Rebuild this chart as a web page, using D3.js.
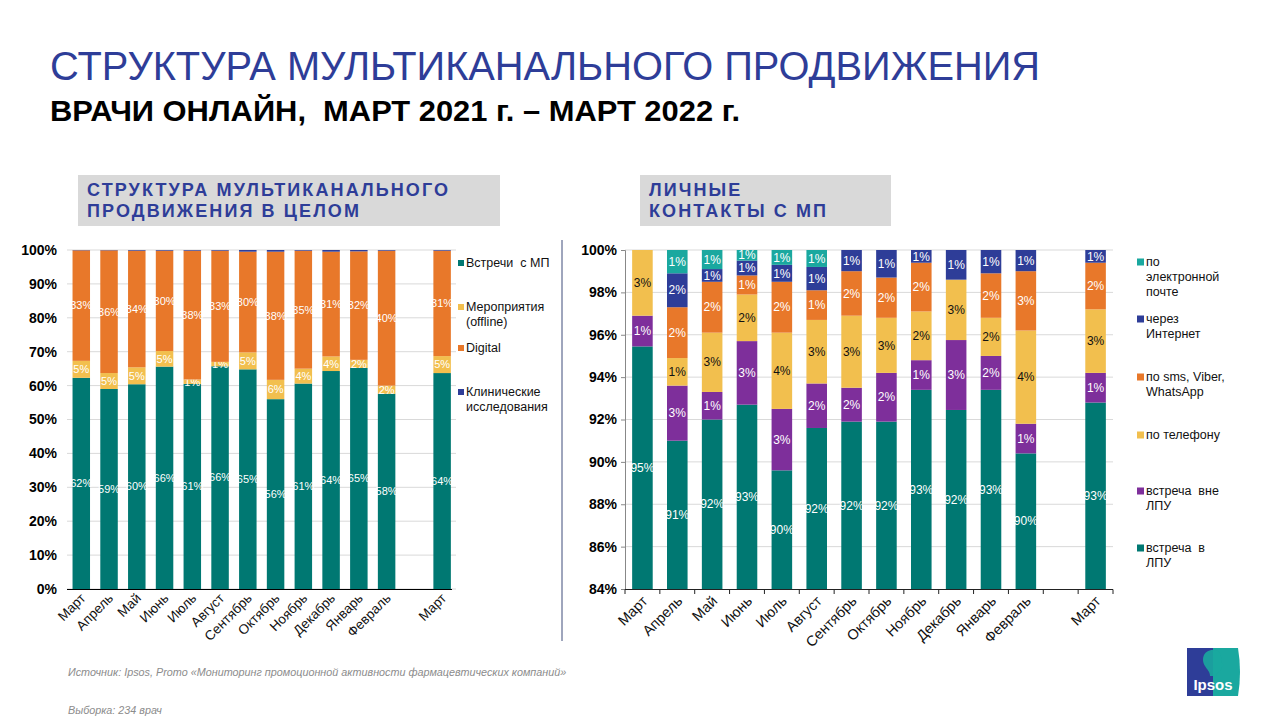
<!DOCTYPE html>
<html><head><meta charset="utf-8">
<script src="https://cdn.jsdelivr.net/npm/d3@7"></script>
<style>
html,body{margin:0;padding:0;background:#fff;}
svg{display:block;font-family:"Liberation Sans",Arial,sans-serif;}
</style></head>
<body>
<svg id="c" width="1280" height="720"></svg>
<script>
// ---------- DATA ----------
const months = ["Март","Апрель","Май","Июнь","Июль","Август","Сентябрь","Октябрь","Ноябрь","Декабрь","Январь","Февраль","Март"];
const slots = [0,1,2,3,4,5,6,7,8,9,10,11,13]; // gap before last March

// Left chart: structure of multichannel promotion (%)
const leftNames = ["Встречи  с МП","Мероприятия|(offline)","Digital","Клинические|исследования"];
const meetings = [62.3,59.0,60.4,65.6,60.5,65.7,64.8,56.0,60.6,64.3,65.2,57.6,63.7];
const events   = [5.0,4.7,5.0,4.6,1.3,1.3,5.0,5.7,4.4,4.3,2.4,2.4,5.0];
const digital  = [32.6,36.2,34.4,29.6,38.0,32.8,29.7,37.8,34.8,30.9,32.0,39.8,31.1];
const clinical = [0.1,0.1,0.2,0.2,0.2,0.2,0.5,0.5,0.2,0.5,0.4,0.2,0.2];
const leftTicks = [0,10,20,30,40,50,60,70,80,90,100];

// Right chart: personal contacts with medical reps (%)
const rightNames = ["встреча  в|ЛПУ","встреча  вне|ЛПУ","по телефону","по sms, Viber,|WhatsApp","через|Интернет","по|электронной|почте"];
const inLpu    = [95.45,91.0,92.0,92.7,89.6,91.6,91.9,91.9,93.4,92.45,93.4,90.4,92.8];
const outLpu   = [1.45,2.6,1.3,3.0,2.9,2.1,1.6,2.3,1.4,3.3,1.6,1.4,1.4];
const phone    = [3.1,1.3,2.8,2.2,3.6,3.0,3.4,2.6,2.3,2.85,1.8,4.4,3.0];
const sms      = [0,2.4,2.4,0.9,2.4,1.4,2.1,1.9,2.3,0,2.1,2.8,2.2];
const internet = [0,1.6,0.6,0.7,0.8,1.1,1.0,1.3,0.6,1.4,1.1,1.0,0.6];
const email    = [0,1.1,0.9,0.5,0.7,0.8,0,0,0,0,0,0,0];
const rightTicks = [84,86,88,90,92,94,96,98,100];

// ---------- STYLE ----------
const C = {teal:"#007872", yellow:"#F2BF4E", orange:"#E8782A", blue:"#2E3D98", purple:"#7E2F9B", cyan:"#1AA89F"};
const svg = d3.select("#c");

// Titles
svg.append("text").attr("x",50).attr("y",80).attr("font-size",40).attr("fill","#2E3D98")
  .attr("textLength",990).attr("lengthAdjust","spacingAndGlyphs")
  .text("СТРУКТУРА МУЛЬТИКАНАЛЬНОГО ПРОДВИЖЕНИЯ");
svg.append("text").attr("x",50).attr("y",121).attr("font-size",30).attr("font-weight","bold").attr("fill","#000")
  .attr("textLength",690).attr("lengthAdjust","spacingAndGlyphs").attr("xml:space","preserve")
  .text("ВРАЧИ ОНЛАЙН,  МАРТ 2021 г. – МАРТ 2022 г.");

// Panel headers
function header(x,w,lines){
  svg.append("rect").attr("x",x).attr("y",175).attr("width",w).attr("height",51).attr("fill","#d9d9d9");
  lines.forEach((l,i)=>svg.append("text").attr("x",x+9).attr("y",196+i*20.5)
    .attr("font-size",18).attr("font-weight","bold").attr("fill","#2E3D98").attr("letter-spacing",2.1).text(l));
}
header(78,422,["СТРУКТУРА МУЛЬТИКАНАЛЬНОГО","ПРОДВИЖЕНИЯ В ЦЕЛОМ"]);
header(640,251,["ЛИЧНЫЕ","КОНТАКТЫ С МП"]);

// separator
svg.append("line").attr("x1",562).attr("x2",562).attr("y1",240).attr("y2",641).attr("stroke","#3f4d7a").attr("stroke-width",1);

// ---------- LEFT CHART ----------
const yL = d3.scaleLinear().domain([0,100]).range([589,250]);
const xL = d3.scaleBand().domain(d3.range(14)).range([67.4,456]).paddingInner(0.37).paddingOuter(0.185);
const gL = svg.append("g");
gL.selectAll("line.grid").data(leftTicks).join("line").attr("class","grid")
  .attr("x1",67).attr("x2",456).attr("y1",d=>yL(d)).attr("y2",d=>yL(d)).attr("stroke","#d9d9d9");
const yAxL = gL.append("g").attr("transform","translate(60,0)")
  .call(d3.axisLeft(yL).tickValues(leftTicks).tickSize(0).tickFormat(d=>d+"%"));
yAxL.select(".domain").remove();
yAxL.selectAll("text").attr("font-size",14).attr("font-weight","bold").attr("fill","#000").attr("font-family","Liberation Sans,Arial");

const leftSeries = [meetings,events,digital,clinical];
const leftCols = [C.teal,C.yellow,C.orange,C.blue];
const leftRows = months.map((m,i)=>({i, slot:slots[i], v:leftSeries.map(s=>s[i])}));
const stackL = d3.stack().keys([0,1,2,3]).value((d,k)=>d.v[k])(leftRows);
stackL.forEach((layer,k)=>{
  gL.selectAll(null).data(layer).join("rect")
    .attr("x",d=>xL(d.data.slot)).attr("width",xL.bandwidth())
    .attr("y",d=>yL(d[1])).attr("height",d=>Math.max(0,yL(d[0])-yL(d[1])))
    .attr("fill",leftCols[k]);
  if(k<3){
    gL.selectAll(null).data(layer.filter(d=>d.data.v[k]>=1)).join("text")
      .attr("x",d=>xL(d.data.slot)+xL.bandwidth()/2).attr("y",d=>(yL(d[0])+yL(d[1]))/2)
      .attr("dy","0.35em").attr("text-anchor","middle").attr("font-size",11).attr("fill","#fff")
      .text(d=>Math.round(d.data.v[k])+"%");
  }
});
gL.append("line").attr("x1",67).attr("x2",452).attr("y1",589.5).attr("y2",589.5).attr("stroke","#000");
gL.selectAll("text.xl").data(months).join("text").attr("class","xl")
  .attr("transform",(d,i)=>`translate(${xL(slots[i])+xL.bandwidth()/2+5},${599}) rotate(-45)`)
  .attr("text-anchor","end").attr("font-size",13.5).attr("fill","#111").text(d=>d);

// legend
function legend(x,entries,cols,ys,fs,sq){
  entries.forEach((e,k)=>{
    const lines=e.split("|");
    svg.append("rect").attr("x",x).attr("y",ys[k]-sq/2).attr("width",sq).attr("height",sq).attr("fill",cols[k]);
    lines.forEach((l,j)=>svg.append("text").attr("x",x+sq+2).attr("y",ys[k]+j*15).attr("dy","0.35em")
      .attr("font-size",fs).attr("fill","#111").attr("xml:space","preserve").text(l));
  });
}
legend(458,leftNames,leftCols,[263,307,348,392],12.5,6);

// ---------- RIGHT CHART ----------
const yR = d3.scaleLinear().domain([84,100]).range([589,250]).clamp(true);
const xR = d3.scaleBand().domain(d3.range(14)).range([625,1113]).paddingInner(0.41).paddingOuter(0.205);
const gR = svg.append("g");
gR.selectAll("line.grid").data(rightTicks.slice(1)).join("line").attr("class","grid")
  .attr("x1",625).attr("x2",1113).attr("y1",d=>yR(d)).attr("y2",d=>yR(d)).attr("stroke","#d9d9d9");
const yAxR = gR.append("g").attr("transform","translate(625,0)")
  .call(d3.axisLeft(yR).tickValues(rightTicks).tickSize(4).tickFormat(d=>d+"%"));
yAxR.select(".domain").attr("stroke","#888");
yAxR.selectAll(".tick line").attr("stroke","#888");
yAxR.selectAll("text").attr("font-size",14).attr("font-weight","bold").attr("fill","#000").attr("x",-8).attr("font-family","Liberation Sans,Arial");

const rightSeries = [inLpu,outLpu,phone,sms,internet,email];
const rightCols = [C.teal,C.purple,C.yellow,C.orange,C.blue,C.cyan];
const rightRows = months.map((m,i)=>({i, slot:slots[i], v:rightSeries.map(s=>s[i])}));
const stackR = d3.stack().keys(d3.range(6)).value((d,k)=>d.v[k])(rightRows);
stackR.forEach((layer,k)=>{
  const vis = layer.filter(d=>d.data.v[k]>0);
  gR.selectAll(null).data(vis).join("rect")
    .attr("x",d=>xR(d.data.slot)).attr("width",xR.bandwidth())
    .attr("y",d=>yR(d[1])).attr("height",d=>Math.max(0,yR(d[0])-yR(d[1])))
    .attr("fill",rightCols[k]);
  gR.selectAll(null).data(vis).join("text")
    .attr("x",d=>xR(d.data.slot)+xR.bandwidth()/2).attr("y",d=>(yR(d[0])+yR(d[1]))/2)
    .attr("dy","0.35em").attr("text-anchor","middle").attr("font-size",12)
    .attr("fill",k===2?"#111":"#fff").text(d=>Math.round(d.data.v[k])+"%");
});
// x axis with boundary ticks
gR.append("line").attr("x1",625).attr("x2",1113).attr("y1",589.5).attr("y2",589.5).attr("stroke","#222");
gR.selectAll("line.xt").data(d3.range(15)).join("line").attr("class","xt")
  .attr("x1",d=>625+d*xR.step()).attr("x2",d=>625+d*xR.step()).attr("y1",589.5).attr("y2",594).attr("stroke","#222");
gR.selectAll("text.xl").data(months).join("text").attr("class","xl")
  .attr("transform",(d,i)=>`translate(${xR(slots[i])+xR.bandwidth()/2+6},${602}) rotate(-45)`)
  .attr("text-anchor","end").attr("font-size",14.5).attr("fill","#111").text(d=>d);

// legend in reverse stacking order (top entry = top segment)
legend(1137,rightNames,rightCols,[548,491,435,377,319,262],12.5,7);

// ---------- FOOTER ----------
svg.append("text").attr("x",68).attr("y",676).attr("font-size",10.8).attr("font-style","italic").attr("fill","#8c8c8c")
  .text("Источник: Ipsos, Promo «Мониторинг промоционной активности фармацевтических компаний»");
svg.append("text").attr("x",68).attr("y",714).attr("font-size",10.8).attr("font-style","italic").attr("fill","#8c8c8c")
  .text("Выборка: 234 врач");

// Ipsos logo
const lg = svg.append("g");
lg.append("path").attr("d","M1187,648 L1238,648 Q1242,672 1238,696 L1187,696 Z").attr("fill","#1AA89F");
lg.append("path").attr("d","M1187,648 L1213,648 L1213,696 L1187,696 Z").attr("fill","#2E3D98");
lg.append("path").attr("d","M1213,650 C1203,650 1201,660 1205,666 C1207,670 1210,671 1210,676 L1216,676 C1216,671 1222,672 1222,667 L1224,665 L1221,662 C1222,654 1219,650 1213,650 Z").attr("fill","#1AA89F").attr("opacity",0.9);
lg.append("text").attr("x",1213).attr("y",690).attr("text-anchor","middle").attr("font-size",15).attr("font-weight","bold").attr("fill","#fff").text("Ipsos");
</script>
</body></html>
